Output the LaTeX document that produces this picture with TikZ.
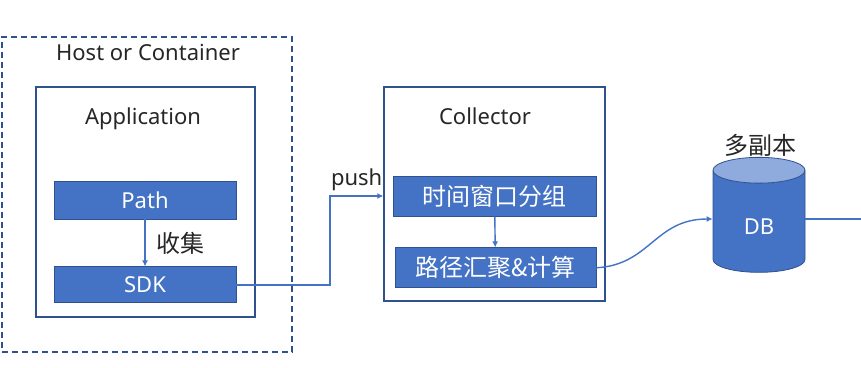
\documentclass[tikz,border=0pt]{standalone}
\usepackage{fontspec}
\setmainfont{Noto Sans}
\newfontfamily\cjk{Noto Sans CJK SC}
\definecolor{officeblue}{RGB}{68,114,196}
\definecolor{edgeblue}{RGB}{47,82,143}
\definecolor{lidblue}{RGB}{143,170,220}
\definecolor{textgray}{RGB}{38,38,38}
\usetikzlibrary{shapes.geometric,arrows.meta,positioning}

\begin{document}
\fontsize{22}{26}\selectfont
\begin{tikzpicture}[x=1pt,y=1pt,node distance=47pt]
  \tikzstyle{outerbox}=[rectangle,draw=edgeblue,line width=1.4pt,inner sep=0pt]
  \tikzstyle{bluebox}=[rectangle,draw=edgeblue,fill=officeblue,line width=0.8pt,text=white,inner sep=0pt]
  \tikzstyle{caption}=[text=textgray,inner sep=0pt]
  \tikzstyle{cjktext}=[font=\cjk\fontsize{24}{28}\selectfont]
  \tikzstyle{link}=[draw=officeblue,line width=1.4pt,-{Latex[length=6pt,width=6pt]}]
  \useasboundingbox (0,0) rectangle (861,367);
  % host and application
  \node[outerbox,dashed,dash pattern=on 6pt off 4pt,minimum width=290pt,minimum height=315pt] (host) at (147,172.5) {};
  \node[caption] (hosttitle) at (148,314) {Host or Container};
  \node[outerbox,minimum width=219pt,minimum height=230pt] (app) at (145.5,165) {};
  \node[caption] (apptitle) at (143,248) {Application};
  \node[bluebox,minimum width=182pt,minimum height=38pt] (path) at (145,167) {Path};
  \node[bluebox,minimum width=182pt,minimum height=36pt,below=47pt of path] (sdk) {SDK};
  % collector
  \node[outerbox,minimum width=221pt,minimum height=214pt] (coll) at (494.5,173) {};
  \node[caption] (colltitle) at (485,251) {Collector};
  \node[bluebox,cjktext,minimum width=203pt,minimum height=40pt] (tgroup) at (494.5,171) {时间窗口分组};
  \node[bluebox,cjktext,minimum width=201pt,minimum height=40pt,below=31pt of tgroup.south east,anchor=north east] (agg) {路径汇聚\&计算};
  % storage
  \node[shape=cylinder,shape border rotate=90,aspect=0.85,draw=edgeblue,line width=0.8pt,cylinder uses custom fill,cylinder body fill=officeblue,cylinder end fill=lidblue,minimum width=92pt,minimum height=115pt,text=white,text height=26pt,inner sep=0pt] (db) at (759,145.5) {DB};
  \node[caption,cjktext] (dbtitle) at (760,222) {多副本};
  \coordinate (pushx) at (330,0);
  \coordinate (rightedge) at (861,148);
  \draw[link] (path) -- node[caption,cjktext,right=11pt]{收集} (sdk);
  \draw[link] (sdk.east) -- (sdk.east -| pushx) |- (coll.west |- tgroup.center) node[pos=0.75,above=5pt,caption]{push};
  \draw[link] (tgroup) -- (agg);
  \draw[link] (agg.east) .. controls +(54,3) and +(-58,0) .. (db.west |- rightedge);
  \draw[officeblue,line width=1.4pt] (db.east |- rightedge) -- (rightedge);
\end{tikzpicture}
\end{document}
